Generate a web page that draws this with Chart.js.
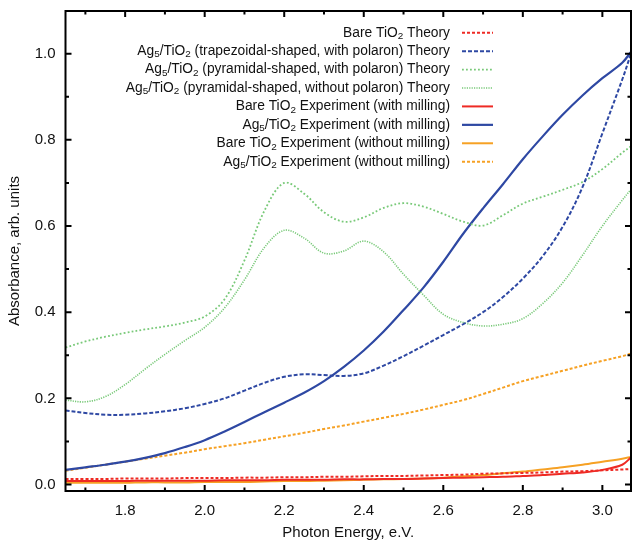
<!DOCTYPE html>
<html>
<head>
<meta charset="utf-8">
<script src="https://cdn.jsdelivr.net/npm/chart.js@4.4.0/dist/chart.umd.min.js"></script>
<style>
html,body{margin:0;padding:0;background:#fff}
canvas{display:block}
</style>
</head>
<body>
<canvas id="c" width="633" height="542"></canvas>
<script>
// DATA
// ═══════════════════════════════════════════════════════
const ENERGY=[1.65,1.70,1.75,1.80,1.85,1.90,1.95,2.00,2.05,2.10,2.15,2.20,2.25,2.30,2.35,2.40,2.45,2.50,2.55,2.60,2.65,2.70,2.75,2.80,2.85,2.90,2.95,3.00,3.05,3.072];

const bareTheory=[0.013,0.013,0.013,0.014,0.014,0.014,0.015,0.015,0.015,0.016,0.016,0.017,0.017,0.018,0.018,0.019,0.020,0.020,0.021,0.022,0.023,0.025,0.026,0.027,0.028,0.030,0.031,0.033,0.035,0.036];
const trapPolaron=[0.172,0.166,0.162,0.162,0.165,0.170,0.177,0.187,0.200,0.218,0.236,0.250,0.256,0.254,0.252,0.258,0.276,0.298,0.322,0.347,0.372,0.400,0.435,0.478,0.530,0.598,0.690,0.815,0.940,1.000];
const pyrPolaron=[0.318,0.332,0.343,0.352,0.360,0.367,0.376,0.390,0.430,0.520,0.635,0.700,0.675,0.632,0.610,0.620,0.642,0.653,0.645,0.628,0.610,0.601,0.625,0.652,0.668,0.684,0.702,0.732,0.770,0.785];
const pyrNoPolaron=[0.196,0.192,0.204,0.232,0.268,0.302,0.334,0.365,0.410,0.475,0.550,0.590,0.572,0.537,0.542,0.565,0.540,0.488,0.440,0.395,0.376,0.368,0.372,0.385,0.420,0.468,0.532,0.600,0.660,0.685];
const bareExpMill=[0.008,0.008,0.008,0.008,0.009,0.009,0.009,0.009,0.010,0.010,0.010,0.011,0.011,0.011,0.012,0.012,0.013,0.013,0.014,0.015,0.016,0.017,0.018,0.020,0.022,0.025,0.028,0.034,0.046,0.063];
const agExpMill=[0.034,0.040,0.046,0.053,0.062,0.073,0.087,0.103,0.123,0.145,0.168,0.190,0.213,0.240,0.273,0.311,0.355,0.405,0.457,0.517,0.582,0.641,0.697,0.755,0.808,0.858,0.903,0.943,0.979,1.004];
const bareExpNoMill=[0.004,0.004,0.004,0.004,0.005,0.005,0.005,0.006,0.006,0.006,0.007,0.008,0.008,0.009,0.010,0.011,0.012,0.013,0.014,0.016,0.019,0.022,0.026,0.030,0.035,0.040,0.046,0.053,0.060,0.064];
const agExpNoMill=[0.032,0.039,0.046,0.053,0.060,0.067,0.074,0.082,0.089,0.096,0.104,0.112,0.120,0.129,0.137,0.146,0.155,0.164,0.174,0.185,0.196,0.210,0.225,0.240,0.252,0.264,0.276,0.287,0.298,0.304];

const LABELS=[
  'Bare TiO₂ Theory',
  'Ag₅/TiO₂ (trapezoidal-shaped, with polaron) Theory',
  'Ag₅/TiO₂ (pyramidal-shaped, with polaron) Theory',
  'Ag₅/TiO₂ (pyramidal-shaped, without polaron) Theory',
  'Bare TiO₂ Experiment (with milling)',
  'Ag₅/TiO₂ Experiment (with milling)',
  'Bare TiO₂ Experiment (without milling)',
  'Ag₅/TiO₂ Experiment (without milling)'
];

const X_MAJOR=[1.8,2.0,2.2,2.4,2.6,2.8,3.0];
const X_MINOR=[1.7,1.9,2.1,2.3,2.5,2.7,2.9];
const Y_MAJOR=[0.0,0.2,0.4,0.6,0.8,1.0];
const Y_MINOR=[0.1,0.3,0.5,0.7,0.9];

// ═══════════════════════════════════════════════════════
const FONT='"Liberation Sans", Arial, Helvetica, sans-serif';
const RED='#ee2a24',BLUE='#2e48a3',GREEN='#78c978',ORANGE='#f6a124';

function pts(ys){return ENERGY.map((x,i)=>({x,y:ys[i]}));}
function ds(label,ys,color,dash,w){
  return {label,data:pts(ys),borderColor:color,backgroundColor:color,borderWidth:w||2,borderDash:dash||[],
    pointRadius:0,fill:false,tension:0.35};
}

const datasets=[
  ds(LABELS[0],bareTheory,RED,[3,2]),
  ds(LABELS[1],trapPolaron,BLUE,[4,2]),
  ds(LABELS[2],pyrPolaron,GREEN,[1.8,2.2],1.8),
  ds(LABELS[3],pyrNoPolaron,GREEN,[1.2,1.2],1.6),
  ds(LABELS[4],bareExpMill,RED,[],2),
  ds(LABELS[5],agExpMill,BLUE,[],2.2),
  ds(LABELS[6],bareExpNoMill,ORANGE,[],2),
  ds(LABELS[7],agExpNoMill,ORANGE,[3,2])
];

// frame with inward ticks on all four sides
const framePlugin={
  id:'frame',
  afterDatasetsDraw(chart){
    const {ctx,chartArea:a,scales:{x,y}}=chart;
    ctx.save();
    ctx.strokeStyle='#000';
    ctx.lineWidth=2;
    ctx.strokeRect(a.left,a.top,a.right-a.left,a.bottom-a.top);
    const tick=(vals,len)=>{
      vals.forEach(v=>{
        const px=x.getPixelForValue(v);
        ctx.beginPath();
        ctx.moveTo(px,a.bottom);ctx.lineTo(px,a.bottom-len);
        ctx.moveTo(px,a.top);ctx.lineTo(px,a.top+len);
        ctx.stroke();
      });
    };
    const tickY=(vals,len)=>{
      vals.forEach(v=>{
        const py=y.getPixelForValue(v);
        ctx.beginPath();
        ctx.moveTo(a.left,py);ctx.lineTo(a.left+len,py);
        ctx.moveTo(a.right,py);ctx.lineTo(a.right-len,py);
        ctx.stroke();
      });
    };
    tick(X_MAJOR,6);tick(X_MINOR,3.5);
    tickY(Y_MAJOR,6);tickY(Y_MINOR,3.5);
    ctx.restore();
  }
};

// legend: right-aligned text, sample line on the right, subscripts drawn lowered
const SUB='₀₁₂₃₄₅₆₇₈₉';
function drawRich(ctx,text,xr,y,size){
  const runs=[];
  for(const ch of text){
    const i=SUB.indexOf(ch),sub=i>=0,c=sub?String(i):ch;
    if(runs.length&&runs[runs.length-1].sub===sub) runs[runs.length-1].t+=c;
    else runs.push({t:c,sub});
  }
  let w=0;
  runs.forEach(r=>{ctx.font=(r.sub?size*0.72:size)+'px '+FONT;r.w=ctx.measureText(r.t).width;w+=r.w;});
  let xx=xr-w;
  runs.forEach(r=>{
    ctx.font=(r.sub?size*0.72:size)+'px '+FONT;
    ctx.fillText(r.t,xx,y+(r.sub?3.5:0));
    xx+=r.w;
  });
}
const legendPlugin={
  id:'rlegend',
  afterDraw(chart){
    const ctx=chart.ctx;
    ctx.save();
    ctx.fillStyle='#111';
    ctx.textBaseline='middle';
    chart.data.datasets.forEach((d,i)=>{
      const y=32.7+i*18.43;
      drawRich(ctx,d.label,450,y,13.8);
      ctx.beginPath();
      ctx.strokeStyle=d.borderColor;
      ctx.lineWidth=d.borderWidth;
      ctx.setLineDash(d.borderDash);
      ctx.moveTo(462,y);ctx.lineTo(493,y);
      ctx.stroke();
    });
    ctx.restore();
  }
};

new Chart(document.getElementById('c').getContext('2d'),{
  type:'line',
  data:{datasets},
  options:{
    responsive:false,
    animation:false,
    devicePixelRatio:1,
    layout:{padding:{top:11,right:2,left:0,bottom:0}},
    plugins:{legend:{display:false},tooltip:{enabled:false}},
    scales:{
      x:{
        type:'linear',min:1.65,max:3.072,
        grid:{display:false,drawTicks:false},border:{display:false},
        afterBuildTicks:s=>{s.ticks=X_MAJOR.map(v=>({value:v}));},
        afterFit:s=>{s.height=51;s.paddingLeft=0;s.paddingRight=0;},
        ticks:{color:'#111',font:{family:FONT,size:15},padding:11,maxRotation:0,callback:v=>v.toFixed(1)},
        title:{display:true,text:'Photon Energy, e.V.',color:'#111',font:{family:FONT,size:15},padding:{top:0,bottom:0}}
      },
      y:{
        type:'linear',min:-0.015,max:1.099,
        grid:{display:false,drawTicks:false},border:{display:false},
        afterBuildTicks:s=>{s.ticks=Y_MAJOR.map(v=>({value:v}));},
        afterFit:s=>{s.width=65.5;s.paddingTop=0;s.paddingBottom=0;},
        ticks:{color:'#111',font:{family:FONT,size:15},padding:10,callback:v=>v.toFixed(1)},
        title:{display:true,text:'Absorbance, arb. units',color:'#111',font:{family:FONT,size:15},padding:{top:6,bottom:0}}
      }
    }
  },
  plugins:[framePlugin,legendPlugin]
});
</script>
</body>
</html>
